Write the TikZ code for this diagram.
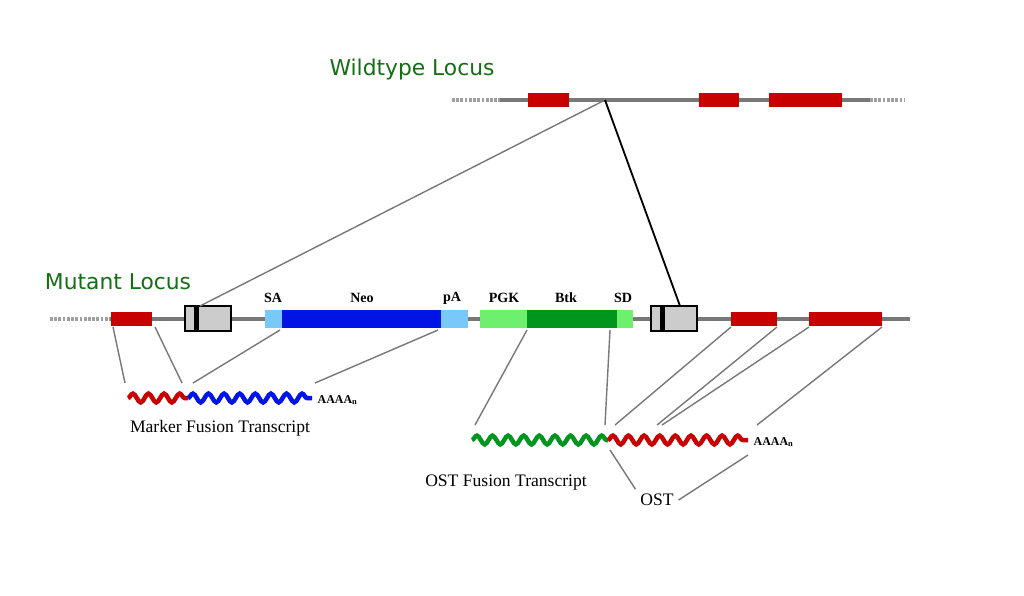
\documentclass[tikz,border=0pt]{standalone}
\usepackage{fontspec}
\setmainfont{Liberation Serif}
\newfontfamily\labelsans{DejaVu Sans}
\usetikzlibrary{decorations.pathmorphing}
\definecolor{exonred}{RGB}{200,0,0}
\definecolor{neoblue}{RGB}{0,20,230}
\definecolor{sablue}{RGB}{120,200,250}
\definecolor{pgkgreen}{RGB}{110,240,110}
\definecolor{btkgreen}{RGB}{0,150,30}
\definecolor{locusgreen}{RGB}{20,110,20}
\definecolor{linegray}{RGB}{120,120,120}

\tikzset{
  exon/.style={fill=exonred, draw=none},
  backbone/.style={linegray, line width=2.5pt},
  dashbone/.style={linegray!70, line width=2.5pt, dash pattern=on 2pt off 1pt},
  guide/.style={linegray, line width=1pt},
  wave/.style={line width=3.2pt, decorate, decoration={snake, amplitude=0.11cm, segment length=0.39cm}},
  part/.style={font=\bfseries\fontsize{10}{12}\selectfont},
  locus/.style={font=\labelsans\fontsize{15.5}{18}\selectfont, text=locusgreen},
  caption/.style={font=\fontsize{12.5}{14}\selectfont}
}

\begin{document}
\begin{tikzpicture}[x=0.025cm,y=-0.025cm]
\useasboundingbox (0,0) rectangle (1024,595);

% wildtype locus
\node[locus] (wtlabel) at (412,69) {Wildtype Locus};
\draw[dashbone] (452,100) -- (500,100);
\draw[dashbone] (870,100) -- (905,100);
\draw[backbone] (500,100) -- (870,100);
\foreach \a/\b in {528/569,699/739,769/842}{
	\fill[exon] (\a,93) rectangle (\b,107);
}
\coordinate (ins) at (605,100);

% mutant locus
\node[locus] (mutlabel) at (118,282) {Mutant Locus};
\draw[dashbone] (50,319) -- (110,319);
\draw[backbone] (110,319) -- (910,319);
\fill[exon] (111,312) rectangle (152,326);
\foreach \a/\b in {731/777,809/882}{
	\fill[exon] (\a,312) rectangle (\b,326);
}

% gene trap vector
\foreach \x in {185,651}{
	\draw[fill=black!20, line width=0.8pt] (\x,306) rectangle ++(46,25);
	\fill[black] (\x+9,306) rectangle ++(5,25);
}
\coordinate (boxL) at (200,306);
\coordinate (boxR) at (680,306);
\fill[sablue] (265,310) rectangle (282,328);
\fill[neoblue] (282,310) rectangle (441,328);
\fill[sablue] (441,310) rectangle (468,328);
\fill[pgkgreen] (480,310) rectangle (527,328);
\fill[btkgreen] (527,310) rectangle (617,328);
\fill[pgkgreen] (617,310) rectangle (633,328);
\node[part] (sa) at (273,298) {SA};
\node[part] (neo) at (362,298) {Neo};
\node[part] (pa) at (452,298) {pA};
\node[part] (pgk) at (504,298) {PGK};
\node[part] (btk) at (566,298) {Btk};
\node[part] (sd) at (623,298) {SD};

% insertion
\draw[guide] (ins) -- (boxL);
\draw[black, line width=1.3pt] (ins) -- (boxR);

% marker fusion transcript
\draw[wave, exonred] (128,398) -- (188,398);
\draw[wave, neoblue] (188,398) -- (312,398);
\node[part, font=\bfseries\fontsize{8.5}{10}\selectfont, anchor=west, inner sep=1pt] (polyA1) at (316,400) {AAAA\textsubscript{n}};
\node[caption] (mft) at (220,428) {Marker Fusion Transcript};
\draw[guide] (113,327) -- (125,383);
\draw[guide] (155,327) -- (182,383);
\draw[guide] (280,330) -- (193,383);
\draw[guide] (438,330) -- (315,383);

% OST fusion transcript
\draw[wave, btkgreen] (472,440) -- (608,440);
\draw[wave, exonred] (608,440) -- (748,440);
\node[part, font=\bfseries\fontsize{8.5}{10}\selectfont, anchor=west, inner sep=1pt] (polyA2) at (752,442) {AAAA\textsubscript{n}};
\node[caption] (oft) at (506,483) {OST Fusion Transcript};
\node[caption] (ost) at (657,500) {OST};
\draw[guide] (527,330) -- (475,425);
\draw[guide] (610,330) -- (605,425);
\draw[guide] (731,327) -- (615,425);
\draw[guide] (777,327) -- (657,425);
\draw[guide] (809,327) -- (662,425);
\draw[guide] (882,327) -- (757,425);
\draw[guide] (610,450) -- (ost.north west);
\draw[guide] (748,455) -- (ost.east);
\end{tikzpicture}
\end{document}
